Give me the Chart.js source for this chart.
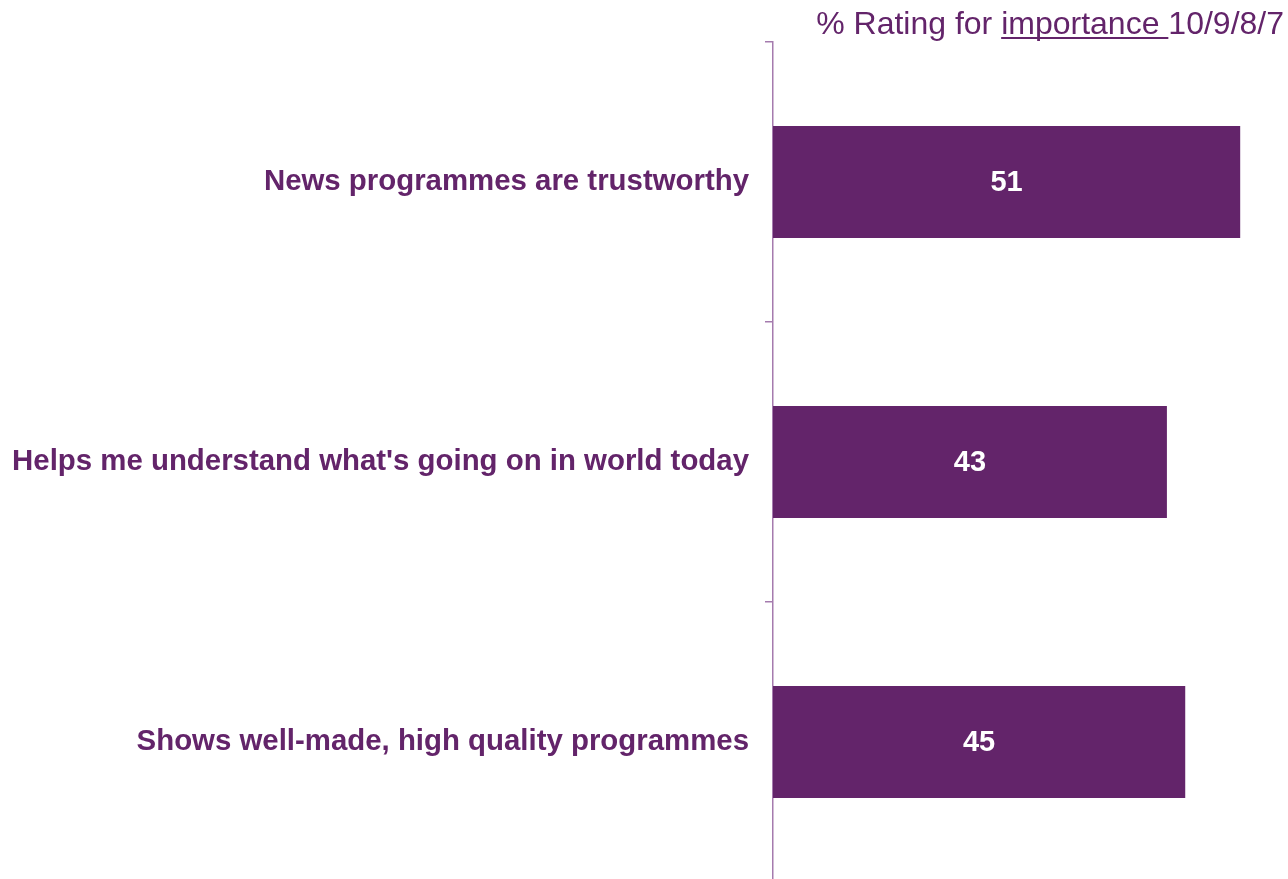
<!DOCTYPE html>
<html>
<head>
<meta charset="utf-8">
<title>% Rating for importance 10/9/8/7</title>
<script src="https://cdn.jsdelivr.net/npm/chart.js@4.4.1/dist/chart.umd.min.js"></script>
<style>
  html, body { margin: 0; padding: 0; background: #ffffff; overflow: hidden; }
  #chart { display: block; }
</style>
</head>
<body>
<canvas id="chart" width="1288" height="882"></canvas>
<script>
// Statements rated for importance and their share of 10/9/8/7 ratings (%)
const statements = [
  "News programmes are trustworthy",
  "Helps me understand what's going on in world today",
  "Shows well-made, high quality programmes"
];
const importanceShare = [51, 43, 45];

const titleParts = ["% Rating for ", "importance ", "10/9/8/7"];

const PURPLE = "#63246a";
const AXIS_PURPLE = "#a57bae";
const FONT = "'Liberation Sans', Arial, Helvetica, sans-serif";

// Heading in the top-right corner, with the word "importance" underlined
const headingPlugin = {
  id: "heading",
  afterDraw(chart) {
    const ctx = chart.ctx;
    ctx.save();
    ctx.font = "32px " + FONT;
    ctx.fillStyle = PURPLE;
    ctx.textBaseline = "alphabetic";
    ctx.textAlign = "left";
    const widths = titleParts.map(t => ctx.measureText(t).width);
    const total = widths.reduce((a, b) => a + b, 0);
    let x = 1284 - total;
    const baseline = 34;
    titleParts.forEach((t, i) => {
      ctx.fillText(t, x, baseline);
      if (i === 1) {
        ctx.fillRect(x, baseline + 3, widths[i], 2);
      }
      x += widths[i];
    });
    ctx.restore();
  }
};

// White value labels centred inside each bar
const valueLabelPlugin = {
  id: "valueLabels",
  afterDatasetsDraw(chart) {
    const ctx = chart.ctx;
    const meta = chart.getDatasetMeta(0);
    const values = chart.data.datasets[0].data;
    ctx.save();
    ctx.font = "bold 29px " + FONT;
    ctx.fillStyle = "#ffffff";
    ctx.textAlign = "center";
    ctx.textBaseline = "middle";
    meta.data.forEach((bar, i) => {
      const p = bar.getProps(["x", "y", "base"], true);
      ctx.fillText(String(values[i]), (p.x + p.base) / 2, p.y + 1);
    });
    ctx.restore();
  }
};

new Chart(document.getElementById("chart"), {
  type: "bar",
  data: {
    labels: statements,
    datasets: [{
      data: importanceShare,
      backgroundColor: PURPLE,
      borderWidth: 0,
      barPercentage: 0.4,
      categoryPercentage: 1.0
    }]
  },
  options: {
    indexAxis: "y",
    responsive: false,
    animation: false,
    layout: { padding: { top: 42, right: 2, bottom: 0, left: 0 } },
    plugins: {
      legend: { display: false },
      tooltip: { enabled: false },
      title: { display: false }
    },
    scales: {
      x: {
        display: false,
        min: 0,
        max: 56
      },
      y: {
        afterFit(scale) {
          scale.width = 773;
          scale.paddingTop = 0;
          scale.paddingBottom = 0;
        },
        grid: {
          display: true,
          drawOnChartArea: false,
          drawTicks: true,
          tickLength: 8,
          color: AXIS_PURPLE,
          lineWidth: 1.5,
          offset: true
        },
        border: { display: true, color: AXIS_PURPLE, width: 1.5 },
        ticks: {
          padding: 16,
          color: PURPLE,
          font: { family: FONT, size: 29.4, weight: "bold" }
        }
      }
    }
  },
  plugins: [headingPlugin, valueLabelPlugin]
});
</script>
</body>
</html>
